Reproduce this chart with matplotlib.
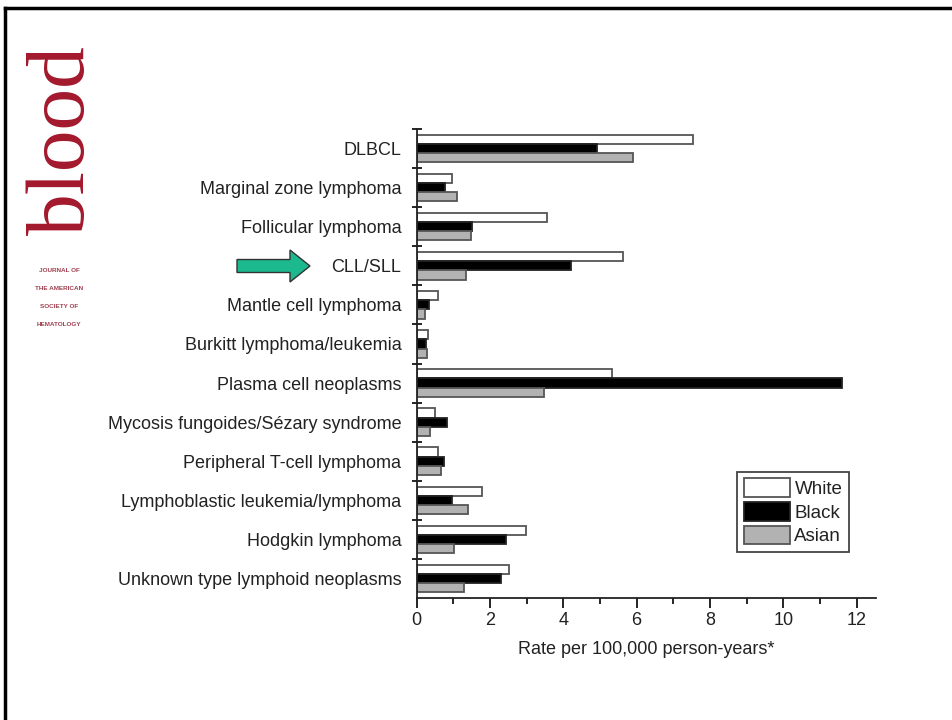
import numpy as np
import matplotlib
matplotlib.use("Agg")
from matplotlib import pyplot as plt
from matplotlib.patches import FancyArrow

categories = ["DLBCL", "Marginal zone lymphoma", "Follicular lymphoma", "CLL/SLL",
              "Mantle cell lymphoma", "Burkitt lymphoma/leukemia", "Plasma cell neoplasms",
              "Mycosis fungoides/Sézary syndrome", "Peripheral T-cell lymphoma",
              "Lymphoblastic leukemia/lymphoma", "Hodgkin lymphoma",
              "Unknown type lymphoid neoplasms"]
white = [7.54, 0.97, 3.56, 5.64, 0.57, 0.32, 5.34, 0.50, 0.59, 1.77, 2.97, 2.51]
black = [4.91, 0.77, 1.51, 4.21, 0.34, 0.25, 11.61, 0.82, 0.75, 0.97, 2.44, 2.30]
asian = [5.91, 1.11, 1.48, 1.34, 0.24, 0.27, 3.47, 0.36, 0.66, 1.41, 1.03, 1.29]
series_names = ["White", "Black", "Asian"]
xticks = [0, 2, 4, 6, 8, 10, 12]

plt.rcParams['font.family'] = ['Liberation Sans', 'DejaVu Sans']
txt = "#222222"

fig = plt.figure(figsize=(9.52, 7.2), dpi=100)
fig.patch.set_facecolor("white")

ax = fig.add_axes([416.7/952, 1-598/720, (876-416.7)/952, (598-129)/720])
y = np.arange(len(categories))
h = 0.235
ax.barh(y - h, white, height=h, color="white", edgecolor="#555555", linewidth=1.3, label=series_names[0])
ax.barh(y, black, height=h, color="black", edgecolor="#222222", linewidth=1.3, label=series_names[1])
ax.barh(y + h, asian, height=h, color="#b2b2b2", edgecolor="#555555", linewidth=1.3, label=series_names[2])

ax.set_ylim(len(categories) - 0.5, -0.5)
ax.set_xlim(0, 12.53)
ax.set_yticks(y)
ax.set_yticklabels(categories, fontsize=13, color=txt)
ax.set_yticks(np.arange(-0.5, len(categories) - 1, 1), minor=True)
ax.tick_params(axis='y', which='major', length=0, pad=11)
ax.tick_params(axis='y', which='minor', length=7, direction='inout', width=1.2)
ax.set_xticks(xticks)
ax.set_xticks(np.arange(1, 13, 2), minor=True)
ax.tick_params(axis='x', which='major', length=7, width=1.2, direction='out', labelsize=13, labelcolor=txt, pad=3)
ax.tick_params(axis='x', which='minor', length=4, width=1.2, direction='out')
ax.set_xlabel("Rate per 100,000 person-years*", fontsize=13, color=txt, labelpad=9)
for s in ["top", "right"]:
    ax.spines[s].set_visible(False)
for s in ["left", "bottom"]:
    ax.spines[s].set_linewidth(1.3)
    ax.spines[s].set_color("#222222")

leg = ax.legend(loc="lower right", bbox_to_anchor=(0.941, 0.098), borderaxespad=0, fontsize=13.5,
                fancybox=False, edgecolor="#444444", framealpha=1, handlelength=2.45, handleheight=1.15,
                handletextpad=0.25, labelspacing=0.22, borderpad=0.35)
leg.get_frame().set_linewidth(1.3)
for t in leg.get_texts():
    t.set_color(txt)

# slide decorations: border, journal logo, arrow
over = fig.add_axes([0, 0, 1, 1], zorder=5)
over.set_xlim(0, 952)
over.set_ylim(720, 0)
over.axis("off")
over.plot([5, 5], [8, 720], color="black", lw=2.5)
over.plot([5, 952], [8, 8], color="black", lw=2.5)

over.text(64, 140, "blood", rotation=90, ha="center", va="center", fontsize=60,
          family="Liberation Serif", color="#a3182c")
for yy, line in zip([270, 288, 307, 325], ["JOURNAL OF", "THE AMERICAN", "SOCIETY OF", "HEMATOLOGY"]):
    over.text(59, yy, line, ha="center", va="center", fontsize=4.6, fontweight="bold", color="#a04050")

over.add_patch(FancyArrow(237, 266, 73, 0, width=13, head_width=32, head_length=20,
                          length_includes_head=True, facecolor="#1cb88e", edgecolor="#333333", lw=1))

fig.savefig("out.png", dpi=100)
